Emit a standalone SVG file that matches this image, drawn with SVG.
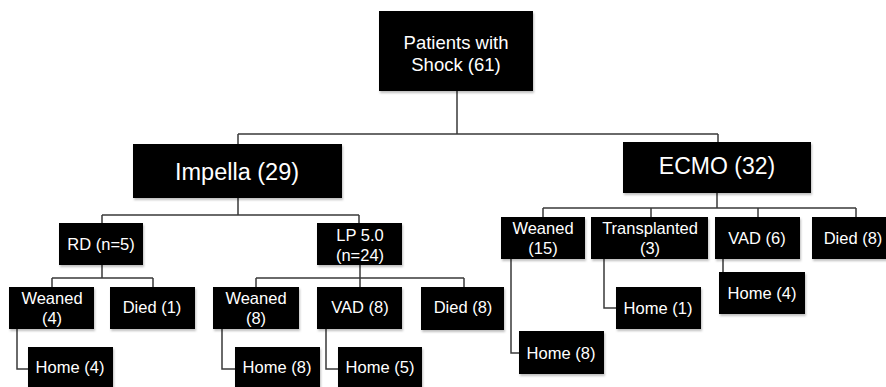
<svg xmlns="http://www.w3.org/2000/svg" width="886" height="387" viewBox="0 0 886 387">
<defs>
<filter id="sh" x="-10%" y="-10%" width="130%" height="140%">
<feDropShadow dx="1" dy="2" stdDeviation="1.2" flood-color="#000" flood-opacity="0.25"/>
</filter>
</defs>
<style>
.b{fill:#000;filter:url(#sh)}
.t{fill:#fff;font-family:"Liberation Sans",Arial,sans-serif;font-size:16.5px;text-anchor:middle;dominant-baseline:central}
.l{fill:none;stroke:#3a3a3a;stroke-width:1.5}
</style>
<rect width="886" height="387" fill="#fff"/>
<g id="connectors">
<path class="l" d="M457 91V134M238 134H718M238 134V144M718 134V142"/>
<path class="l" d="M238 198V215M102 215H359M102 215V223M359 215V223"/>
<path class="l" d="M717 193V208M543 208H856M543 208V217M651 208V217M758 208V217M856 208V217"/>
<path class="l" d="M102 265V278M52 278H153M52 278V287M153 278V287"/>
<path class="l" d="M360 265V278M256 278H464M256 278V287M360 278V287M464 278V287"/>
<path class="l" d="M17 329V369H28M222 329V369H235M326 329V369H338"/>
<path class="l" d="M511 259V353H519M604 259V308H616M723 259V272"/>
</g>
<g id="root"><rect class="b" x="379" y="11" width="154" height="80"/><text class="t" x="456" y="42" style="font-size:18.5px">Patients with</text><text class="t" x="456" y="64" style="font-size:18.5px">Shock (61)</text></g>
<g id="impella"><rect class="b" x="133" y="144" width="209" height="54"/><text class="t" x="237" y="172" style="font-size:23.5px">Impella (29)</text></g>
<g id="ecmo"><rect class="b" x="623" y="142" width="188" height="51"/><text class="t" x="717" y="166" style="font-size:23px">ECMO (32)</text></g>
<g id="rd"><rect class="b" x="59" y="223" width="84" height="42"/><text class="t" x="101" y="244">RD (n=5)</text></g>
<g id="lp"><rect class="b" x="317" y="223" width="85" height="42"/><text class="t" x="360" y="235">LP 5.0</text><text class="t" x="360" y="255">(n=24)</text></g>
<g id="rd-weaned"><rect class="b" x="9" y="287" width="85" height="42"/><text class="t" x="52" y="298">Weaned</text><text class="t" x="52" y="318">(4)</text></g>
<g id="rd-died"><rect class="b" x="110" y="287" width="85" height="42"/><text class="t" x="152" y="307">Died (1)</text></g>
<g id="rd-home"><rect class="b" x="28" y="347" width="85" height="45"/><text class="t" x="70" y="367">Home (4)</text></g>
<g id="lp-weaned"><rect class="b" x="213" y="287" width="86" height="42"/><text class="t" x="256" y="298">Weaned</text><text class="t" x="256" y="318">(8)</text></g>
<g id="lp-vad"><rect class="b" x="317" y="287" width="85" height="42"/><text class="t" x="360" y="307">VAD (8)</text></g>
<g id="lp-died"><rect class="b" x="421" y="287" width="83" height="43"/><text class="t" x="463" y="307">Died (8)</text></g>
<g id="lp-home8"><rect class="b" x="235" y="347" width="85" height="45"/><text class="t" x="277" y="367">Home (8)</text></g>
<g id="lp-home5"><rect class="b" x="338" y="347" width="84" height="45"/><text class="t" x="380" y="367">Home (5)</text></g>
<g id="ecmo-weaned"><rect class="b" x="501" y="217" width="84" height="42"/><text class="t" x="543" y="228">Weaned</text><text class="t" x="543" y="248">(15)</text></g>
<g id="ecmo-transplanted"><rect class="b" x="591" y="217" width="117" height="42"/><text class="t" x="650" y="228">Transplanted</text><text class="t" x="650" y="248">(3)</text></g>
<g id="ecmo-vad"><rect class="b" x="715" y="217" width="85" height="42"/><text class="t" x="757" y="238">VAD (6)</text></g>
<g id="ecmo-died"><rect class="b" x="812" y="217" width="78" height="42"/><text class="t" x="853" y="238">Died (8)</text></g>
<g id="ecmo-home8"><rect class="b" x="519" y="331" width="85" height="43"/><text class="t" x="561" y="353">Home (8)</text></g>
<g id="ecmo-home1"><rect class="b" x="616" y="287" width="85" height="42"/><text class="t" x="658" y="308">Home (1)</text></g>
<g id="ecmo-home4"><rect class="b" x="719" y="272" width="86" height="42"/><text class="t" x="762" y="293">Home (4)</text></g>
</svg>
